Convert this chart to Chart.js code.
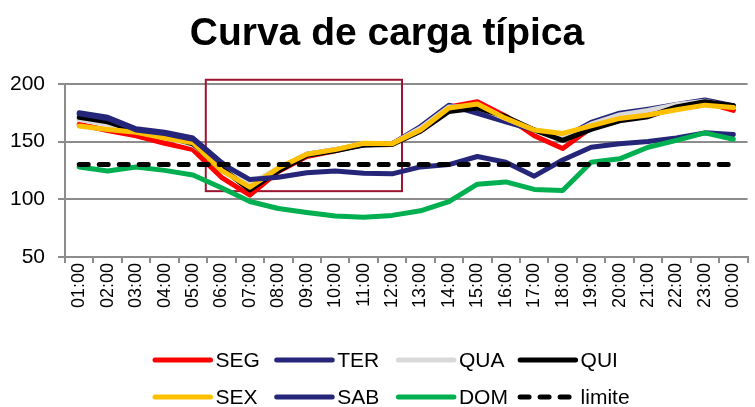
<!DOCTYPE html>
<html>
<head>
<meta charset="utf-8">
<script src="https://cdn.jsdelivr.net/npm/chart.js@4.4.1/dist/chart.umd.min.js"></script>
<style>
  html, body { margin: 0; padding: 0; background: #fff; }
  #wrap { width: 755px; height: 407px; position: relative; }
</style>
</head>
<body>
<div id="wrap"><canvas id="c"></canvas></div>
<script>
const hours = ['01:00','02:00','03:00','04:00','05:00','06:00','07:00','08:00','09:00','10:00','11:00','12:00',
               '13:00','14:00','15:00','16:00','17:00','18:00','19:00','20:00','21:00','22:00','23:00','00:00'];
const seriesNames = ['SEG','TER','QUA','QUI','SEX','SAB','DOM','limite'];
const seg = [165,159.5,155,148.5,143,119,103.5,124,137,142,148,148,161,180,184.5,172,155,144,162,171,176,181,184,177];
const ter = [175,171,161,158,153,132,112,126,139,143,147,148,163,181.5,174.5,167,160,153,166.5,174.5,178,182,186,181];
const qua = [169,165,158.5,154,147,129,113.5,127,139,143,147.5,148,161.5,180,180,170,160,153,165,173,177,182,185,180];
const qui = [171,167,159,155,148,127,108,124.5,138,142,147,147.5,159,176,179,171.5,160,151,160.5,168,171.5,180,184.5,181];
const sex = [163.5,160.5,158,153,149,125,110.5,127,139,143,148.5,148,160,179,182.5,170,160,157,163.5,170,173,177.5,181.5,179.5];
const sab = [174,170,160,157,152,131,117,119,123,124.5,122.5,122,128,130,137,132,120,134,145,148,150,153,157.5,156];
const dom = [128,124.5,128,125,121,110,98,92,88.5,85.5,84.5,86,90,98,113,115,108.5,107.5,132,135,145,151,157.5,152];
const limite = [130,130,130,130,130,130,130,130,130,130,130,130,130,130,130,130,130,130,130,130,130,130,130,130];
const yTicks = [50, 100, 150, 200];
// highlight box in data coordinates (category index, value)
const highlightBox = { xMin: 4.45, xMax: 11.35, yMin: 107, yMax: 203.5 };

const FONT = '"Liberation Sans", Arial, sans-serif';
const colors = ['#ff0000','#25257a','#d9d9d9','#000000','#ffc000','#25257a','#00b050','#000000'];
const values = [seg, ter, qua, qui, sex, sab, dom, limite];
const DASH = [9, 11];

const datasets = values.map((v, i) => ({
  label: seriesNames[i],
  data: v,
  borderColor: colors[i],
  backgroundColor: colors[i],
  borderWidth: 5,
  pointRadius: 0,
  tension: 0,
  fill: false,
  borderCapStyle: 'round',
  borderJoinStyle: 'round',
  borderDash: seriesNames[i] === 'limite' ? DASH : [],
  order: values.length - i
}));

// let y-axis labels extend into the left margin without being clipped
const widenYLabels = {
  id: 'widenYLabels',
  afterLayout(chart) { chart.scales.y.left = 0; }
};

const boxPlugin = {
  id: 'boxPlugin',
  beforeDatasetsDraw(chart) {
    const x = chart.scales.x, y = chart.scales.y, ctx = chart.ctx;
    const l = x.getPixelForValue(highlightBox.xMin), r = x.getPixelForValue(highlightBox.xMax);
    const t = y.getPixelForValue(highlightBox.yMax), b = y.getPixelForValue(highlightBox.yMin);
    ctx.save();
    ctx.strokeStyle = '#9b1530';
    ctx.lineWidth = 2;
    ctx.strokeRect(l, t, r - l, b - t);
    ctx.restore();
  }
};

const gridLegend = {
  id: 'gridLegend',
  afterDraw(chart) {
    const ctx = chart.ctx;
    const ds = chart.data.datasets;
    const cols = 4, colW = 121.7, lineLen = 58;
    const startX = chart.width / 2 - 225;
    const rowY = [chart.height - 47, chart.height - 10];
    ctx.save();
    ctx.font = '21px ' + FONT;
    ctx.textBaseline = 'middle';
    ctx.textAlign = 'left';
    ds.forEach((d, i) => {
      const x = startX + (i % cols) * colW;
      const y = rowY[Math.floor(i / cols)];
      ctx.beginPath();
      ctx.strokeStyle = d.borderColor;
      ctx.lineWidth = 5;
      ctx.lineCap = 'round';
      ctx.setLineDash(d.borderDash && d.borderDash.length ? d.borderDash : []);
      ctx.moveTo(x + 2.5, y);
      ctx.lineTo(x + lineLen, y);
      ctx.stroke();
      ctx.setLineDash([]);
      ctx.fillStyle = '#000';
      ctx.fillText(d.label, x + lineLen + 5, y + 1);
    });
    ctx.restore();
  }
};

new Chart(document.getElementById('c'), {
  type: 'line',
  data: { labels: hours, datasets },
  plugins: [widenYLabels, boxPlugin, gridLegend],
  options: {
    responsive: true,
    maintainAspectRatio: false,
    animation: false,
    layout: { padding: { left: 22, right: 3, top: 0, bottom: 99 } },
    plugins: {
      legend: { display: false },
      tooltip: { enabled: false },
      title: {
        display: true,
        text: 'Curva de carga típica',
        color: '#000',
        font: { family: FONT, size: 39, weight: 'bold' },
        padding: { top: 11, bottom: 26 }
      }
    },
    scales: {
      x: {
        offset: true,
        grid: { offset: true, drawOnChartArea: false, drawTicks: true, tickLength: 6, color: '#8c8c8c', lineWidth: 2 },
        border: { color: '#8c8c8c', width: 2 },
        ticks: { color: '#000', font: { family: FONT, size: 18 }, minRotation: 90, maxRotation: 90, autoSkip: false, padding: 0 }
      },
      y: {
        min: 50, max: 200,
        afterFit(scale) { scale.width = 43; },
        afterBuildTicks(scale) { scale.ticks = yTicks.map(v => ({ value: v })); },
        grid: { color: '#8c8c8c', lineWidth: 2, tickLength: 7 },
        border: { color: '#8c8c8c', width: 2 },
        ticks: { color: '#000', font: { family: FONT, size: 21 }, padding: 13, stepSize: 50 }
      }
    }
  }
});
</script>
</body>
</html>
